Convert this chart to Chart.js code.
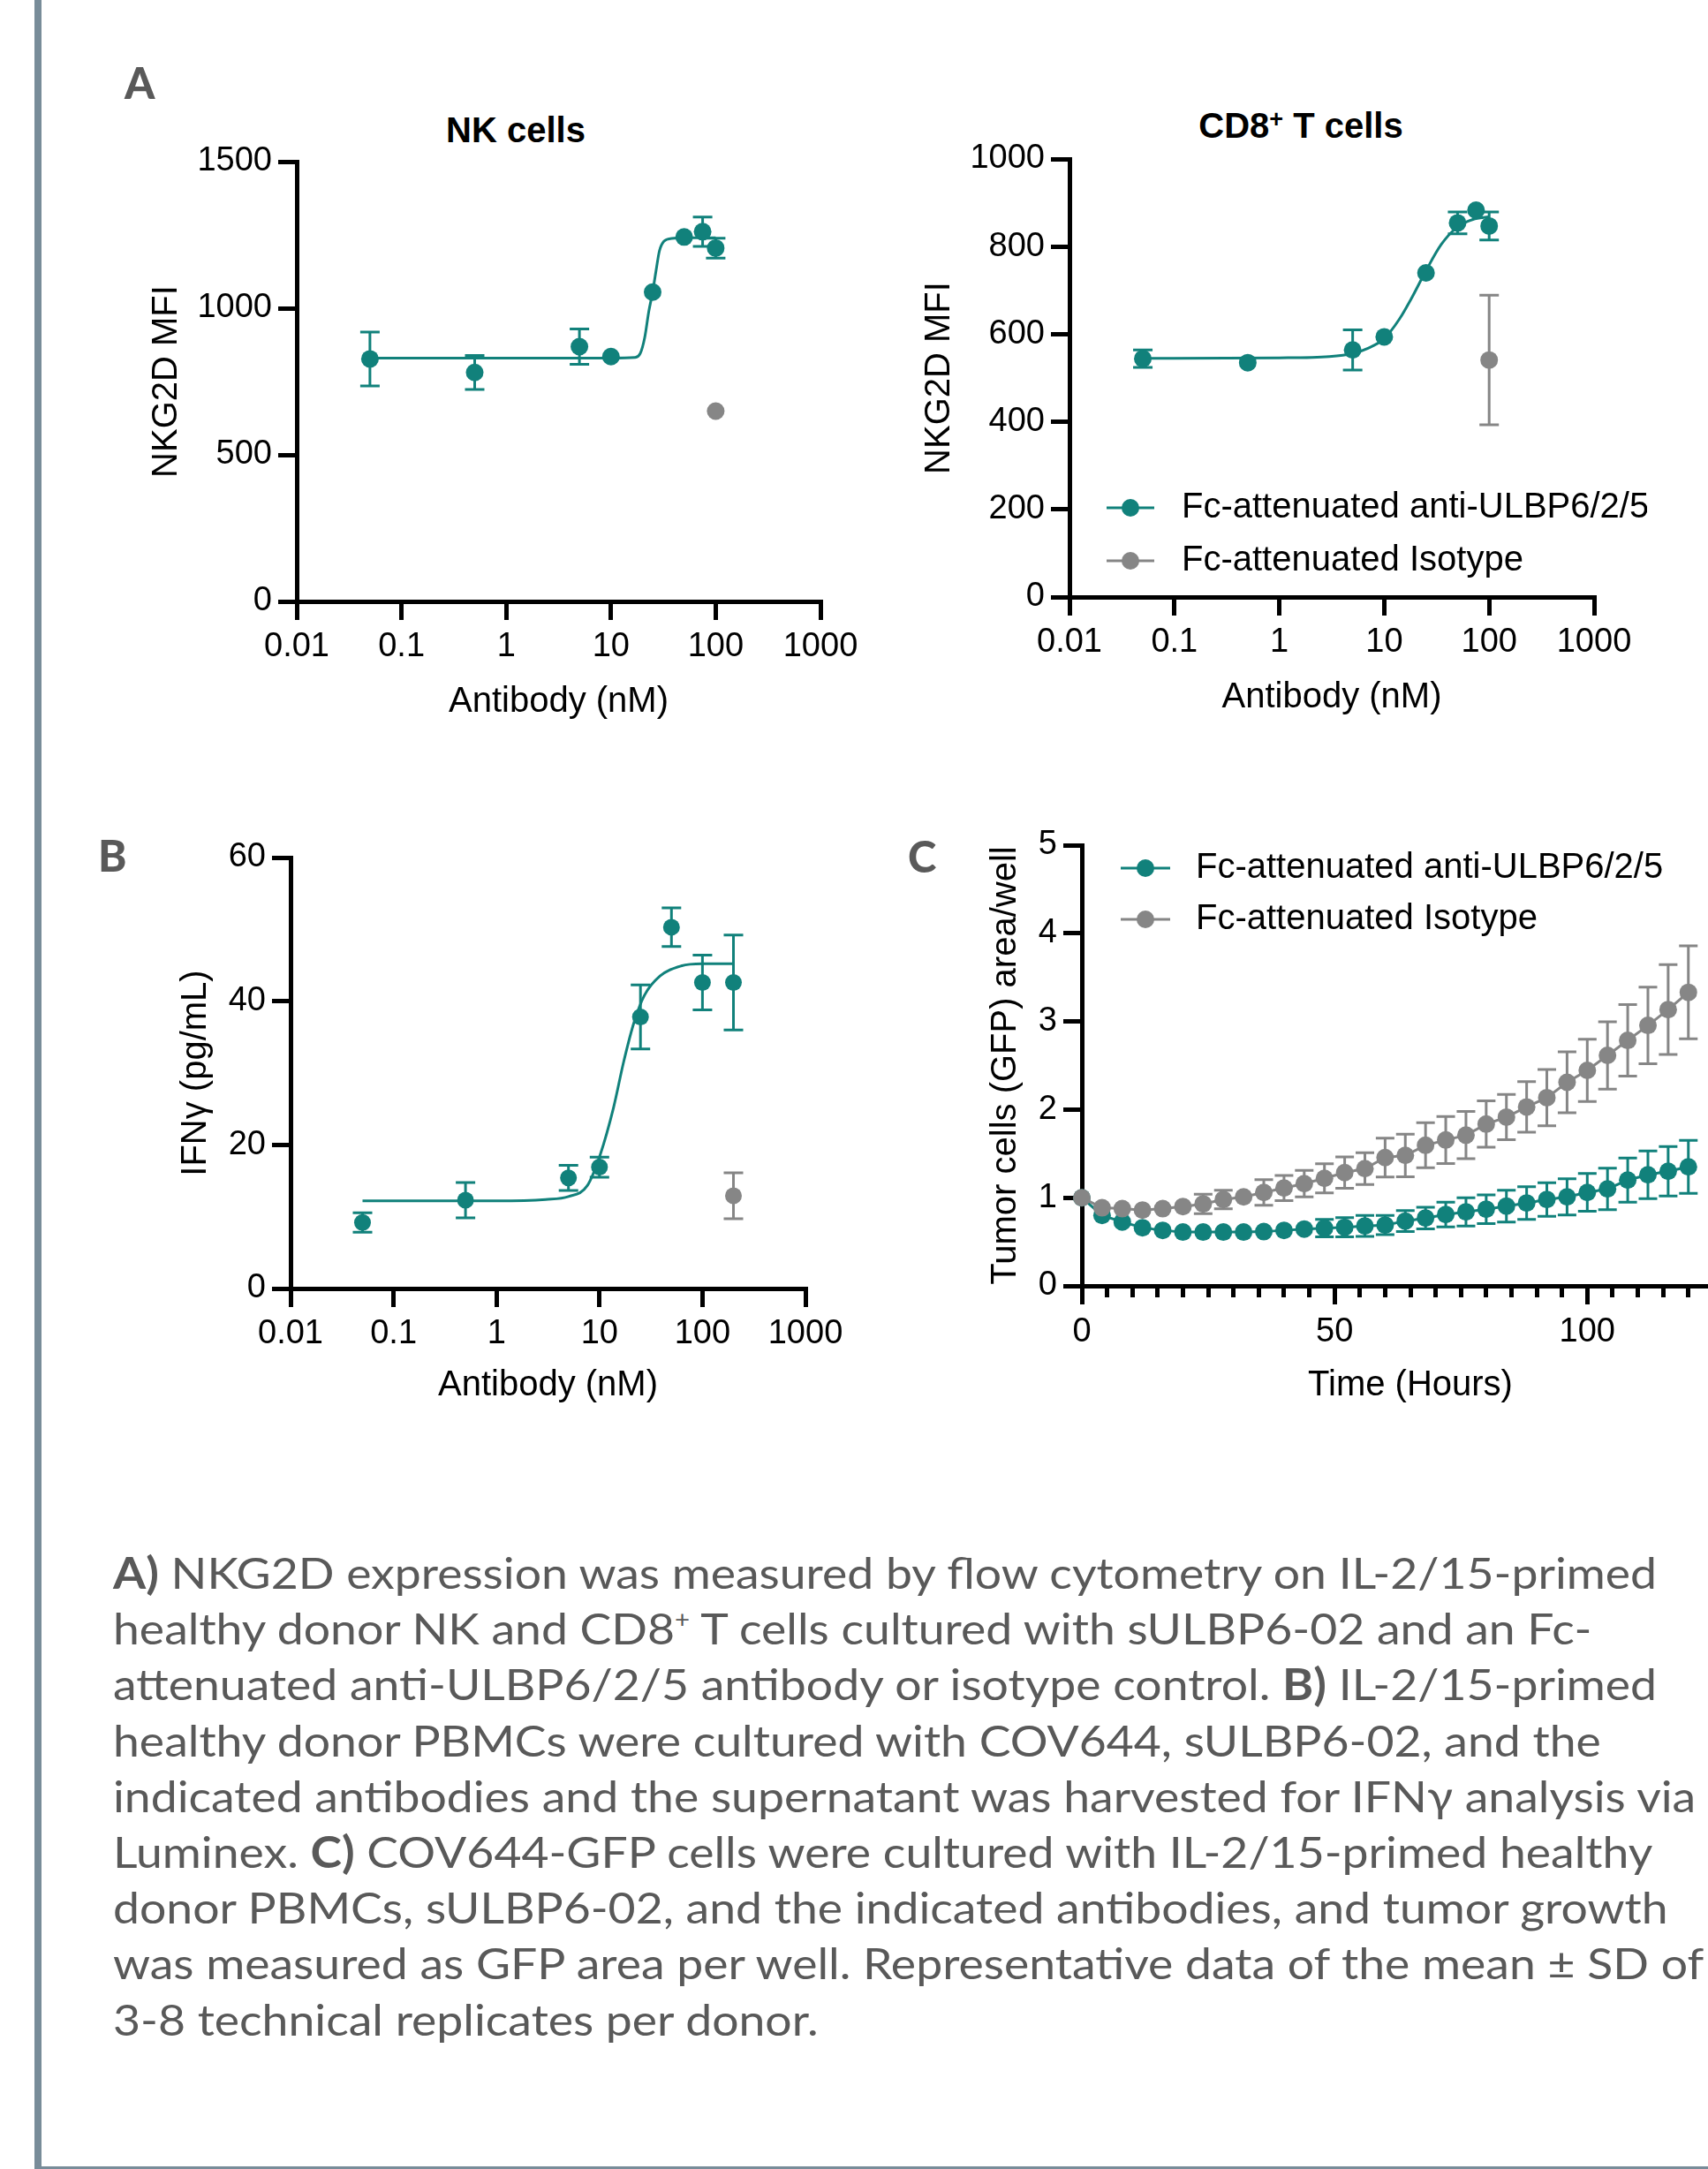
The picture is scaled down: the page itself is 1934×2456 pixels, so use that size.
<!DOCTYPE html>
<html><head><meta charset="utf-8">
<script src="https://cdn.jsdelivr.net/npm/chart.js@4.4.1/dist/chart.umd.min.js"></script>
<style>
html,body{margin:0;padding:0;background:#fff;}
body{width:1934px;height:2456px;overflow:hidden;position:relative;font-family:'Liberation Sans',Arial,sans-serif;}
canvas{position:absolute;}
.frameL{position:absolute;left:39px;top:0;width:8px;height:2456px;background:#788c99;}
.frameB{position:absolute;left:39px;top:2453px;width:1895px;height:3px;background:#788c99;}
.lbl{position:absolute;font-family:Lato,'Open Sans',sans-serif;font-weight:900;color:#595959;font-size:49px;line-height:49px;}
.ttl{position:absolute;font-weight:700;font-size:40px;line-height:40px;color:#000;white-space:nowrap;transform:translateX(-50%);}
.ttl sup{font-size:27px;line-height:0;vertical-align:12px;}
#caption{position:absolute;left:128px;top:1749px;font-family:Lato,'Open Sans',sans-serif;font-size:49px;color:#595959;}
#caption div{white-space:nowrap;line-height:63.2px;height:63.2px;transform-origin:0 0;}
#caption sup{font-size:0.55em;line-height:0;vertical-align:0.7em;}
</style></head>
<body>
<div class="frameL"></div><div class="frameB"></div>
<div class="lbl" style="left:141px;top:69px;">A</div>
<div class="lbl" style="left:111px;top:944px;">B</div>
<div class="lbl" style="left:1028px;top:945px;">C</div>
<div class="ttl" style="left:584px;top:127px;">NK cells</div>
<div class="ttl" style="left:1473px;top:122px;">CD8<sup>+</sup> T cells</div>
<div id="caption">
<div><span><b>A)</b> NKG2D expression was measured by flow cytometry on IL-2/15-primed</span></div>
<div><span>healthy donor NK and CD8<sup>+</sup> T cells cultured with sULBP6-02 and an Fc-</span></div>
<div><span>attenuated anti-ULBP6/2/5 antibody or isotype control. <b>B)</b> IL-2/15-primed</span></div>
<div><span>healthy donor PBMCs were cultured with COV644, sULBP6-02, and the</span></div>
<div><span>indicated antibodies and the supernatant was harvested for IFNγ analysis via</span></div>
<div><span>Luminex. <b>C)</b> COV644-GFP cells were cultured with IL-2/15-primed healthy</span></div>
<div><span>donor PBMCs, sULBP6-02, and the indicated antibodies, and tumor growth</span></div>
<div><span>was measured as GFP area per well. Representative data of the mean ± SD of</span></div>
<div><span>3-8 technical replicates per donor.</span></div>
</div>
<script>
// ---------------- DATA ----------------
const TEAL = '#11817b';
const GRAY = '#868686';
const doseTicks = [0.01, 0.1, 1, 10, 100, 1000];

// Panel A - NK cells
const nkDose = [0.05, 0.5, 5, 10, 25, 50, 75, 100];
const nkMFI  = [827, 781, 869, 835, 1055, 1243, 1261, 1205];
const nkSD   = [92, 58, 60, 0, 0, 0, 50, 34];
const nkIsoDose = [100];
const nkIsoMFI  = [649];
const nkIsoSD   = [0];
const nkFitDose = [0.05, 10, 17, 19, 21, 23, 25, 27, 29, 32, 38, 50, 100];
const nkFitMFI  = [830, 830, 832, 845, 900, 990, 1055, 1130, 1195, 1228, 1238, 1240, 1240];

// Panel A - CD8+ T cells
const cd8Dose = [0.05, 0.5, 5, 10, 25, 50, 75, 100];
const cd8MFI  = [544, 535, 564, 594, 740, 854, 883, 847];
const cd8SD   = [20, 0, 46, 0, 0, 25, 0, 32];
const cd8IsoDose = [100];
const cd8IsoMFI  = [541];
const cd8IsoSD   = [148];
const cd8FitDose = [0.05, 1, 3, 5, 7, 10, 14, 18, 25, 35, 50, 70, 100];
const cd8FitMFI  = [545, 546, 549, 556, 568, 590, 635, 680, 745, 805, 845, 862, 868];

// Panel B - IFNg
const bDose = [0.05, 0.5, 5, 10, 25, 50, 100, 200];
const bIFN  = [9.2, 12.3, 15.4, 16.9, 37.8, 50.3, 42.6, 42.6];
const bSD   = [1.35, 2.46, 1.75, 1.4, 4.45, 2.7, 3.8, 6.6];
const bIsoDose = [200];
const bIsoIFN  = [12.9];
const bIsoSD   = [3.2];
const bFitDose = [0.05, 1, 3, 5, 7.6, 10.2, 13.7, 17.2, 21.7, 27.3, 38.7, 62, 100, 200];
const bFitIFN  = [12.2, 12.2, 12.4, 12.8, 14.3, 18.7, 25.2, 31.6, 37.1, 40.8, 43.5, 44.9, 45.2, 45.2];

// Panel C - tumor growth
const cHours = [0,4,8,12,16,20,24,28,32,36,40,44,48,52,56,60,64,68,72,76,80,84,88,92,96,100,104,108,112,116,120];
const cAnti  = [1.0,0.80,0.725,0.66,0.63,0.61,0.61,0.61,0.61,0.615,0.63,0.645,0.655,0.665,0.68,0.69,0.735,0.77,0.81,0.84,0.87,0.905,0.94,0.98,1.01,1.06,1.10,1.20,1.26,1.30,1.35];
const cAntiSD= [0,0,0,0,0,0,0,0,0,0,0,0,0.10,0.11,0.12,0.11,0.12,0.123,0.14,0.16,0.163,0.18,0.185,0.19,0.205,0.214,0.236,0.25,0.27,0.28,0.30];
const cIso   = [1.0,0.886,0.876,0.86,0.876,0.90,0.93,0.98,1.01,1.06,1.11,1.16,1.22,1.285,1.33,1.455,1.48,1.595,1.655,1.71,1.835,1.915,2.03,2.135,2.31,2.445,2.615,2.785,2.955,3.135,3.33];
const cIsoSD = [0,0,0,0,0,0,0.11,0.105,0,0.146,0.143,0.15,0.165,0.177,0.18,0.22,0.242,0.256,0.266,0.268,0.263,0.256,0.286,0.32,0.345,0.354,0.382,0.406,0.434,0.51,0.527];
const cXLabels = [0, 50, 100];

const LEGEND_ANTI = 'Fc-attenuated anti-ULBP6/2/5';
const LEGEND_ISO  = 'Fc-attenuated Isotype';

// ---------------- HELPERS ----------------
const pts = (xs, ys) => xs.map((x, i) => ({x: x, y: ys[i]}));

Chart.defaults.font.family = "'Liberation Sans', Arial, sans-serif";
Chart.defaults.color = '#000';

const errorBars = {
  id: 'errorBars',
  beforeDatasetsDraw(chart) {
    const ctx = chart.ctx;
    chart.data.datasets.forEach((ds, i) => {
      if (!ds.errors) return;
      const meta = chart.getDatasetMeta(i);
      const xs = chart.scales[meta.xAxisID], ys = chart.scales[meta.yAxisID];
      const cap = ds.capHalf || 11;
      ctx.save();
      ctx.strokeStyle = ds.borderColor;
      ctx.lineWidth = 3;
      ds.data.forEach((p, j) => {
        const e = ds.errors[j];
        if (!e) return;
        const x = xs.getPixelForValue(p.x);
        const yT = ys.getPixelForValue(p.y + e);
        const yB = ys.getPixelForValue(p.y - e);
        ctx.beginPath();
        ctx.moveTo(x, yT); ctx.lineTo(x, yB);
        ctx.moveTo(x - cap, yT); ctx.lineTo(x + cap, yT);
        ctx.moveTo(x - cap, yB); ctx.lineTo(x + cap, yB);
        ctx.stroke();
      });
      ctx.restore();
    });
  }
};

const inLegend = {
  id: 'inLegend',
  afterDatasetsDraw(chart, args, o) {
    if (!o || !o.show) return;
    const {ctx, chartArea: a} = chart;
    const items = chart.data.datasets.filter(d => d.inLegend);
    ctx.save();
    items.forEach((it, k) => {
      const y = a.top + o.y + k * o.gap;
      ctx.strokeStyle = it.borderColor; ctx.lineWidth = 3;
      ctx.beginPath(); ctx.moveTo(a.left + o.x0, y); ctx.lineTo(a.left + o.x1, y); ctx.stroke();
      ctx.fillStyle = it.borderColor;
      ctx.beginPath(); ctx.arc(a.left + (o.x0 + o.x1) / 2, y, 10, 0, Math.PI * 2); ctx.fill();
      ctx.fillStyle = '#000';
      ctx.font = "40px 'Liberation Sans', Arial, sans-serif";
      ctx.textBaseline = 'middle'; ctx.textAlign = 'left';
      ctx.fillText(it.label, a.left + o.tx, y);
    });
    ctx.restore();
  }
};
Chart.register(errorBars, inLegend);

function axisBase(titleText) {
  return {
    border: {display: true, color: '#000', width: 5},
    grid: {display: true, drawOnChartArea: false, drawTicks: true, tickLength: 21, tickWidth: 5, tickColor: '#000', color: '#000', lineWidth: 5},
    ticks: {color: '#000', font: {size: 38}, padding: 7, maxRotation: 0, autoSkip: false},
    title: {display: true, text: titleText, color: '#000', font: {size: 40, lineHeight: 1.2}, padding: 0}
  };
}

function logX(title) {
  const ax = axisBase(title);
  ax.type = 'logarithmic'; ax.min = 0.01; ax.max = 1000;
  ax.afterBuildTicks = s => { s.ticks = doseTicks.map(v => ({value: v})); };
  ax.ticks.callback = v => String(v);
  ax.ticks.padding = 8;
  return ax;
}
function linY(title, min, max, step) {
  const ax = axisBase(title);
  ax.type = 'linear'; ax.min = min; ax.max = max;
  ax.ticks.stepSize = step;
  ax.ticks.callback = v => String(v);
  return ax;
}

function placeChart(area, yTitleCX, xTitleCY, config, padR) {
  const Wy = area.l - yTitleCX + 24;
  const Hx = xTitleCY + 24 - area.b;
  const padT = 30, padB = 4;
  const left = area.l - Wy, top = area.t - padT;
  const width = Math.round(area.r + padR - left), height = Math.round(area.b + Hx + padB - top);
  const cv = document.createElement('canvas');
  cv.width = width; cv.height = height;
  cv.style.left = left + 'px'; cv.style.top = top + 'px';
  cv.style.width = width + 'px'; cv.style.height = height + 'px';
  document.body.appendChild(cv);
  config.options.layout = {padding: {left: 0, top: padT, right: padR, bottom: padB}};
  config.options.responsive = false;
  config.options.animation = false;
  config.options.devicePixelRatio = 1;
  config.options.events = [];
  config.options.scales.y.afterFit = s => { s.width = Wy; };
  config.options.scales.x.afterFit = s => { s.height = Hx; };
  return new Chart(cv, config);
}

function dosePanel(dose, val, sd, isoDose, isoVal, isoSD, fitDose, fitVal, r, legend) {
  return [
    {label: LEGEND_ANTI, inLegend: legend, data: pts(dose, val), errors: sd, showLine: false, borderColor: TEAL, backgroundColor: TEAL,
     pointRadius: r, pointBorderWidth: 0, pointBackgroundColor: TEAL, clip: false, order: 1},
    {label: LEGEND_ISO, inLegend: legend, data: pts(isoDose, isoVal), errors: isoSD, showLine: false, borderColor: GRAY, backgroundColor: GRAY,
     pointRadius: r, pointBorderWidth: 0, pointBackgroundColor: GRAY, clip: false, order: 2},
    {label: 'fit', data: pts(fitDose, fitVal), borderColor: TEAL, borderWidth: 3, pointRadius: 0, showLine: true,
     cubicInterpolationMode: 'monotone', fill: false, clip: false, order: 3}
  ];
}

// ---------------- PANEL A: NK ----------------
placeChart({l: 336, t: 183, r: 929, b: 681}, 189, 795, {
  type: 'line',
  data: {datasets: dosePanel(nkDose, nkMFI, nkSD, nkIsoDose, nkIsoMFI, nkIsoSD, nkFitDose, nkFitMFI, 10, false)},
  options: {plugins: {legend: {display: false}, tooltip: {enabled: false}},
    scales: {x: logX('Antibody (nM)'), y: linY('NKG2D MFI', 0, 1500, 500)}}
}, 60);

// ---------------- PANEL A: CD8 ----------------
placeChart({l: 1211, t: 180, r: 1805, b: 676}, 1064, 790, {
  type: 'line',
  data: {datasets: dosePanel(cd8Dose, cd8MFI, cd8SD, cd8IsoDose, cd8IsoMFI, cd8IsoSD, cd8FitDose, cd8FitMFI, 10, true)},
  options: {plugins: {legend: {display: false}, tooltip: {enabled: false},
      inLegend: {show: true, x0: 42, x1: 96, tx: 127, y: 395, gap: 60}},
    scales: {x: logX('Antibody (nM)'), y: linY('NKG2D MFI', 0, 1000, 200)}}
}, 60);

// ---------------- PANEL B ----------------
placeChart({l: 329, t: 971, r: 912, b: 1459}, 222, 1569, {
  type: 'line',
  data: {datasets: dosePanel(bDose, bIFN, bSD, bIsoDose, bIsoIFN, bIsoSD, bFitDose, bFitIFN, 9.5, false)},
  options: {plugins: {legend: {display: false}, tooltip: {enabled: false}},
    scales: {x: logX('Antibody (nM)'), y: linY('IFNγ (pg/mL)', 0, 60, 20)}}
}, 60);

// ---------------- PANEL C ----------------
(function() {
  const x = axisBase('Time (Hours)');
  x.type = 'linear'; x.min = 0; x.max = 130; x.weight = 1;
  x.ticks.stepSize = 50; x.ticks.includeBounds = false; x.ticks.padding = 9;
  x.afterBuildTicks = s => { s.ticks = cXLabels.map(v => ({value: v})); };
  x.ticks.callback = v => String(v);
  const xMinor = axisBase('');
  xMinor.type = 'linear'; xMinor.position = 'bottom'; xMinor.min = 0; xMinor.max = 130; xMinor.weight = 0;
  xMinor.ticks.stepSize = 5; xMinor.ticks.display = false; xMinor.title.display = false;
  xMinor.grid.tickLength = 13;
  xMinor.afterFit = s => { s.height = 0; };
  placeChart({l: 1225, t: 957, r: 1969, b: 1456}, 1139, 1569, {
    type: 'line',
    data: {datasets: [
      {label: LEGEND_ANTI, inLegend: true, data: pts(cHours, cAnti), errors: cAntiSD, capHalf: 10.5, borderColor: TEAL, backgroundColor: TEAL, borderWidth: 3,
       pointRadius: 10, pointBorderWidth: 0, pointBackgroundColor: TEAL, clip: false, order: 2, xAxisID: 'x'},
      {label: LEGEND_ISO, inLegend: true, data: pts(cHours, cIso), errors: cIsoSD, capHalf: 10.5, borderColor: GRAY, backgroundColor: GRAY, borderWidth: 3,
       pointRadius: 10, pointBorderWidth: 0, pointBackgroundColor: GRAY, clip: false, order: 1, xAxisID: 'x'}
    ]},
    options: {plugins: {legend: {display: false}, tooltip: {enabled: false},
        inLegend: {show: true, x0: 44, x1: 100, tx: 129, y: 26, gap: 58}},
      scales: {x: x, xMinor: xMinor, y: linY('Tumor cells (GFP) area/well', 0, 5, 1)}}
  }, 10);
})();

// ---------------- CAPTION FIT ----------------
function fitCaption() {
  const rows = document.querySelectorAll('#caption div');
  const w = rows[0].querySelector('span').offsetWidth;
  const s = 1748 / w;
  rows.forEach(r => { r.style.transform = 'scaleX(' + s + ')'; });
}
fitCaption();
if (document.fonts && document.fonts.ready) document.fonts.ready.then(fitCaption);
</script>
</body></html>
